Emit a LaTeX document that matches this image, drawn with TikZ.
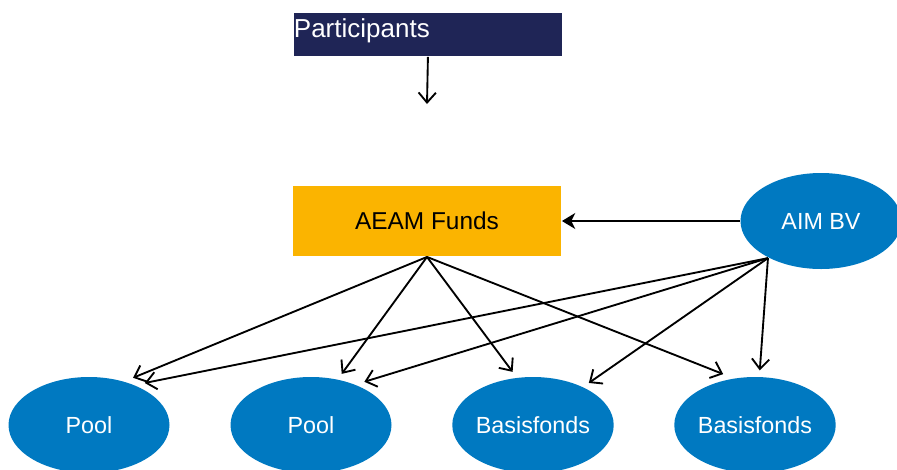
\documentclass[tikz,border=0pt]{standalone}
\usepackage{fontspec}
\setmainfont{Liberation Sans}
\usetikzlibrary{shapes.geometric,arrows.meta}
\definecolor{navy}{RGB}{31,37,86}
\definecolor{gold}{RGB}{251,180,0}
\definecolor{aimblue}{RGB}{0,121,193}
\tikzset{
every picture/.style={
line width=1.4pt
}}

\begin{document}
\begin{tikzpicture}[x=0.75pt, y=-0.75pt,
block/.style = {rectangle, inner sep=0pt, minimum width=201pt},
oval/.style = {ellipse, fill=aimblue, text=white, inner sep=0pt, minimum width=120.75pt, minimum height=72pt, font=\fontsize{17.5}{20}\selectfont},
open/.style = {-{Straight Barb[length=7.5pt,width=13pt]}}]
\useasboundingbox (0,0) rectangle (897,469);

\node[block, fill=navy, text=white, align=left, text width=201pt, text height=18.75pt, text depth=13.5pt, font=\fontsize{19.5}{22}\selectfont, anchor=north west] at (293,12) (part) {Participants};
\coordinate (pend) at (427,104);
\node[block, fill=gold, minimum height=52.5pt, font=\fontsize{18.3}{22}\selectfont] at (427,221) (aeam) {AEAM Funds};
\node[oval] at (821,221) (aim) {AIM BV};
\node[oval, outer sep=5pt] at (89,425) (pool1) {Pool};
\node[oval, outer sep=5pt] at (311,425) (pool2) {Pool};
\node[oval, outer sep=5pt] at (533,425) (basis1) {Basisfonds};
\node[oval, outer sep=5pt] at (755,425) (basis2) {Basisfonds};

\draw[open] (part.south) -- (pend);
\draw[-{Stealth[length=10pt,width=12pt,inset=3pt]}] (aim.west) -- (aeam.east);

% AEAM Funds to pools and basisfondsen
\draw[open] (aeam.south) -- (pool1.47);
\draw[open] (aeam.south) -- (pool2.59);
\draw[open] (aeam.south) -- (basis1.111);
\draw[open] (aeam.south) -- (basis2.122);
% AIM BV
\draw[open] (aim.215) -- (pool1.37);
\draw[open] (aim.215) -- (pool2.39);
\draw[open] (aim.215) -- (basis1.37);
\draw[open] (aim.215) -- (basis2.85);
\end{tikzpicture}
\end{document}
